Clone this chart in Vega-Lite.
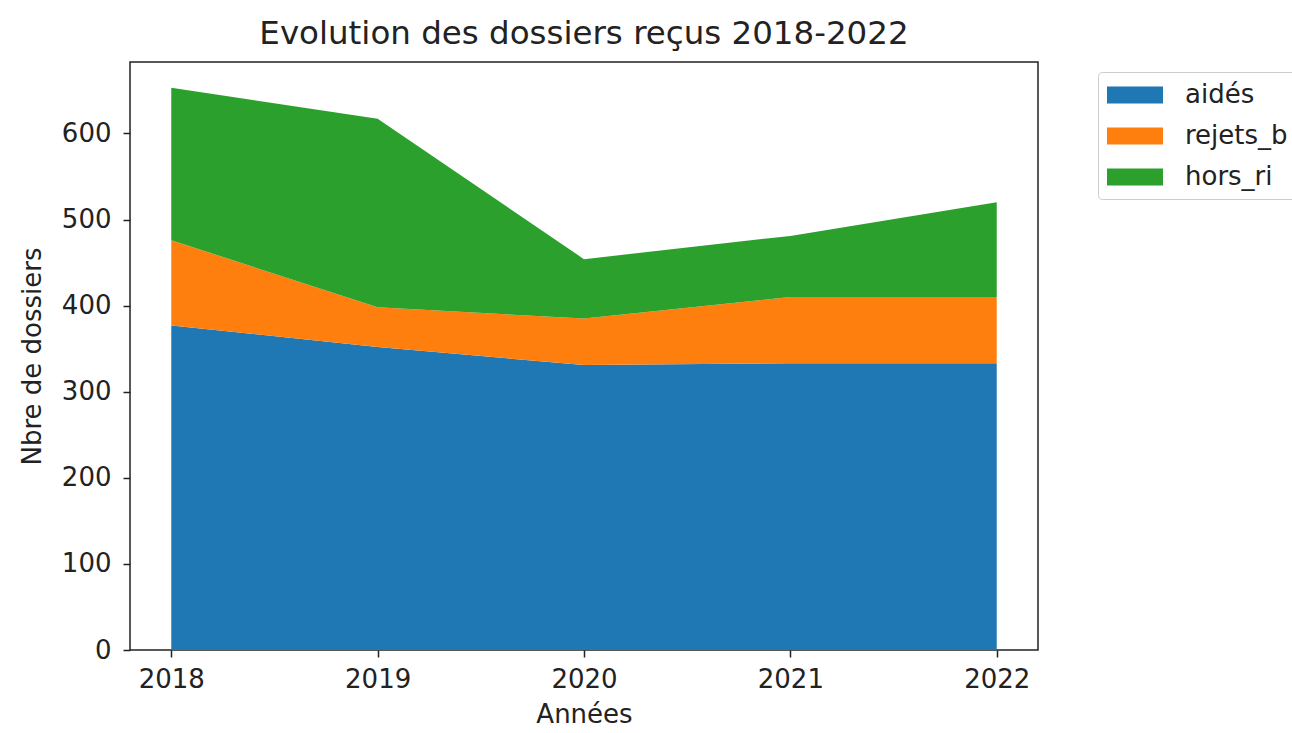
{
  "$schema": "https://vega.github.io/schema/vega-lite/v6.json",
  "autosize": "none",
  "padding": {"left": 130, "top": 62, "right": 254, "bottom": 83},
  "width": 908,
  "height": 588,
  "background": "white",
  "title": {"text": "Evolution des dossiers reçus 2018-2022", "font": "DejaVu Sans", "fontSize": 32.5, "fontWeight": "normal", "color": "#222", "offset": 12, "anchor": "middle"},
  "config": {
    "view": {"stroke": "#222", "strokeWidth": 1.5},
    "font": "DejaVu Sans",
    "axis": {"grid": false, "domain": false, "tickColor": "#222", "tickSize": 7, "tickWidth": 1.5, "labelFont": "DejaVu Sans", "labelFontSize": 26, "labelColor": "#222", "titleFont": "DejaVu Sans", "titleFontSize": 26, "titleFontWeight": "normal", "titleColor": "#222"}
  },
  "data": {"values": [
    {"annee": 2018, "serie": "aidés", "rang": 1, "n": 377},
    {"annee": 2019, "serie": "aidés", "rang": 1, "n": 352},
    {"annee": 2020, "serie": "aidés", "rang": 1, "n": 331},
    {"annee": 2021, "serie": "aidés", "rang": 1, "n": 333},
    {"annee": 2022, "serie": "aidés", "rang": 1, "n": 333},
    {"annee": 2018, "serie": "rejets_b", "rang": 2, "n": 99},
    {"annee": 2019, "serie": "rejets_b", "rang": 2, "n": 46},
    {"annee": 2020, "serie": "rejets_b", "rang": 2, "n": 54},
    {"annee": 2021, "serie": "rejets_b", "rang": 2, "n": 77},
    {"annee": 2022, "serie": "rejets_b", "rang": 2, "n": 77},
    {"annee": 2018, "serie": "hors_ri", "rang": 3, "n": 177},
    {"annee": 2019, "serie": "hors_ri", "rang": 3, "n": 219},
    {"annee": 2020, "serie": "hors_ri", "rang": 3, "n": 69},
    {"annee": 2021, "serie": "hors_ri", "rang": 3, "n": 71},
    {"annee": 2022, "serie": "hors_ri", "rang": 3, "n": 110}
  ]},
  "mark": {"type": "area", "opacity": 1},
  "encoding": {
    "x": {"field": "annee", "type": "quantitative", "title": "Années", "scale": {"domain": [2017.8, 2022.2], "nice": false, "zero": false}, "axis": {"values": [2018, 2019, 2020, 2021, 2022], "format": "d", "labelPadding": 9, "titlePadding": 9}},
    "y": {"field": "n", "type": "quantitative", "stack": "zero", "title": "Nbre de dossiers", "scale": {"domain": [0, 683], "nice": false}, "axis": {"values": [0, 100, 200, 300, 400, 500, 600], "labelPadding": 12, "titlePadding": 16}},
    "color": {"field": "serie", "type": "nominal", "sort": ["aidés", "rejets_b", "hors_ri"], "scale": {"domain": ["aidés", "rejets_b", "hors_ri"], "range": ["#1f77b4", "#ff7f0e", "#2ca02c"]},
      "legend": {"title": null, "orient": "none", "legendX": 968, "legendY": 10, "symbolType": "M-1,-0.6L3,-0.6L3,0.6L-1,0.6Z", "symbolSize": 784, "symbolStrokeWidth": 0, "labelFontSize": 26, "labelFont": "DejaVu Sans", "labelColor": "#222", "rowPadding": 14, "labelOffset": 50, "strokeColor": "#cccccc", "cornerRadius": 4, "padding": 9, "fillColor": "white"}},
    "order": {"field": "rang", "type": "quantitative", "sort": "ascending"}
  }
}
